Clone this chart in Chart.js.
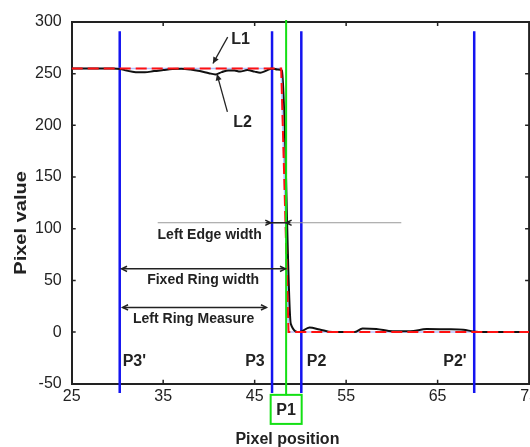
<!DOCTYPE html>
<html>
<head>
<meta charset="utf-8">
<script src="https://cdn.jsdelivr.net/npm/chart.js@4"></script>
<style>
  html, body { margin: 0; padding: 0; background: #fff; overflow: hidden; }
  #wrap { width: 530px; height: 447px; overflow: hidden; }
</style>
</head>
<body>
<div id="wrap"><canvas id="edgeChart" width="541" height="447"></canvas></div>
<script>
const xTicks = [25, 35, 45, 55, 65, 75]
const yTicks = [-50, 0, 50, 100, 150, 200, 250, 300]

// L1: ideal edge profile
const l1X = [25, 47.9, 48.7, 75]
const l1Y = [255, 255, 0, 0]

// L2: measured edge profile
const l2X = [25, 27, 29.5, 30.3, 31, 32, 33, 34, 35, 36, 37, 38, 39, 40, 40.7, 41.4, 42.1, 42.8, 43.4, 44.2, 45, 45.6, 46.3, 46.9, 47.5, 48,
  48.95, 49.9, 51, 52.1, 53.5, 55.9, 56.8, 58.3, 60.1, 62, 63.8, 66, 67.8, 68.9, 70, 75]
const l2Y = [255, 255, 255, 254.5, 253, 251.5, 251.3, 252.5, 253.5, 254.5, 254.8, 254, 252.5, 250.5, 249.3, 251.5, 253.2, 253, 252, 253.5, 252, 251, 253, 255, 254, 253,
  8, 0, 4.5, 2.5, 0, 0, 3.5, 3, 0.8, 0.8, 3, 2.7, 2.3, 0.7, 0, 0]

const markerNames = ["P3'", 'P3', 'P2', "P2'"]
const markerX = [30.25, 46.9, 50.1, 69.0]
const markerSpan = [291, -59]
const p1X = 48.44
const p1Span = [302, -61]

const FONT = '"Liberation Sans", Arial, sans-serif'
const INK = '#222'

function zip(xs, ys) {
  return xs.map((x, i) => ({ x, y: ys[i] }))
}

function arrowHead(ctx, x, y, angle, size, filled) {
  ctx.beginPath()
  ctx.moveTo(x - size * Math.cos(angle - 0.45), y - size * Math.sin(angle - 0.45))
  ctx.lineTo(x, y)
  ctx.lineTo(x - size * Math.cos(angle + 0.45), y - size * Math.sin(angle + 0.45))
  if (filled) {
    ctx.closePath()
    ctx.fill()
  } else {
    ctx.stroke()
  }
}

const framePlugin = {
  id: 'frame',
  beforeDatasetsDraw(chart) {
    const { ctx, chartArea: a } = chart
    ctx.save()
    ctx.strokeStyle = INK
    ctx.lineWidth = 2
    ctx.beginPath()
    ctx.moveTo(a.left, a.top)
    ctx.lineTo(a.right, a.top)
    ctx.lineTo(a.right, a.bottom)
    ctx.stroke()

    // inward ticks on all four sides
    ctx.lineWidth = 1.5
    const x = chart.scales.x
    const y = chart.scales.y
    xTicks.slice(1, -1).forEach(v => {
      const p = x.getPixelForValue(v)
      ctx.beginPath()
      ctx.moveTo(p, a.bottom); ctx.lineTo(p, a.bottom - 4)
      ctx.moveTo(p, a.top); ctx.lineTo(p, a.top + 4)
      ctx.stroke()
    })
    yTicks.slice(1, -1).forEach(v => {
      const p = y.getPixelForValue(v)
      ctx.beginPath()
      ctx.moveTo(a.left, p); ctx.lineTo(a.left + 4, p)
      ctx.moveTo(a.right, p); ctx.lineTo(a.right - 4, p)
      ctx.stroke()
    })

    // axis titles
    ctx.fillStyle = INK
    ctx.font = 'bold 16px ' + FONT
    ctx.textAlign = 'center'
    ctx.textBaseline = 'middle'
    ctx.fillText('Pixel position', (a.left + a.right) / 2 - 13, a.bottom + 56)

    ctx.save()
    ctx.translate(a.left - 50, (a.top + a.bottom) / 2 + 20)
    ctx.rotate(-Math.PI / 2)
    ctx.scale(1.18, 1)
    ctx.font = 'bold 17px ' + FONT
    ctx.fillText('Pixel value', 0, 0)
    ctx.restore()
    ctx.restore()
  }
}

const annotationPlugin = {
  id: 'edgeAnnotations',
  afterDatasetsDraw(chart) {
    const { ctx } = chart
    const px = v => chart.scales.x.getPixelForValue(v)
    const py = v => chart.scales.y.getPixelForValue(v)

    ctx.save()
    ctx.fillStyle = INK
    ctx.strokeStyle = INK
    ctx.textAlign = 'center'
    ctx.textBaseline = 'middle'

    // L1 / L2 callouts
    ctx.font = 'bold 16px ' + FONT
    ctx.fillText('L1', px(43.47), py(282.5))
    ctx.fillText('L2', px(43.69), py(203))
    ctx.lineWidth = 1.3
    const callouts = [[42.05, 285.4, 40.44, 259.9], [42.02, 213, 40.88, 249.6]]
    callouts.forEach(([x1, y1, x2, y2]) => {
      const a1 = px(x1), b1 = py(y1), a2 = px(x2), b2 = py(y2)
      ctx.beginPath()
      ctx.moveTo(a1, b1)
      ctx.lineTo(a2, b2)
      ctx.stroke()
      arrowHead(ctx, a2, b2, Math.atan2(b2 - b1, a2 - a1), 7, true)
    })

    // Left edge width guide
    ctx.strokeStyle = '#9a9a9a'
    ctx.lineWidth = 1
    ctx.beginPath()
    ctx.moveTo(px(34.4), py(105.8))
    ctx.lineTo(px(61.03), py(105.8))
    ctx.stroke()
    ctx.strokeStyle = INK
    ctx.lineWidth = 1.5
    ctx.beginPath()
    ctx.moveTo(px(46.2), py(105.8))
    ctx.lineTo(px(48.9), py(105.8))
    ctx.stroke()
    arrowHead(ctx, px(46.75), py(105.8), 0, 6, false)
    arrowHead(ctx, px(48.45), py(105.8), Math.PI, 6, false)

    // ring width dimension arrows
    const dims = [[30.46, 48.36, 61.2], [30.57, 46.28, 23.9]]
    dims.forEach(([x1, x2, yv]) => {
      ctx.beginPath()
      ctx.moveTo(px(x1), py(yv))
      ctx.lineTo(px(x2), py(yv))
      ctx.stroke()
      arrowHead(ctx, px(x1), py(yv), Math.PI, 6, false)
      arrowHead(ctx, px(x2), py(yv), 0, 6, false)
    })

    ctx.font = 'bold 14px ' + FONT
    ctx.fillText('Left Edge width', px(40.08), py(93.4))
    ctx.fillText('Fixed Ring width', px(39.37), py(50.3))
    ctx.fillText('Left Ring Measure', px(38.33), py(13))

    // marker names
    ctx.font = 'bold 16px ' + FONT
    const nameOffset = [0.32, -0.8, 0.6, -0.83]
    markerNames.forEach((name, i) => {
      ctx.textAlign = nameOffset[i] > 0 ? 'left' : 'right'
      ctx.fillText(name, px(markerX[i] + nameOffset[i]), py(-28.7))
    })

    // P1 box under the green line
    const bx = px(46.75), by = py(-60.7)
    const bw = px(50.14) - bx, bh = py(-88.8) - by
    ctx.strokeStyle = '#14e014'
    ctx.lineWidth = 2
    ctx.strokeRect(bx, by, bw, bh)
    ctx.textAlign = 'center'
    ctx.fillText('P1', px(p1X), by + bh / 2 + 1)
    ctx.restore()
  }
}

const markerSets = markerX.map(v => ({
  label: 'marker',
  data: zip([v, v], markerSpan),
  borderColor: '#1414f0',
  borderWidth: 2.5,
  pointRadius: 0,
  clip: false,
  order: 4
}))

const axisGrid = { display: false, drawTicks: false, tickLength: 0 }

new Chart(document.getElementById('edgeChart'), {
  type: 'line',
  data: {
    datasets: [
      ...markerSets,
      {
        label: 'L1 base',
        data: zip(l1X, l1Y),
        borderColor: 'rgba(150, 165, 255, 0.7)',
        borderWidth: 1.5,
        pointRadius: 0,
        order: 3
      },
      {
        label: 'L2',
        data: zip(l2X, l2Y),
        borderColor: '#111',
        borderWidth: 2,
        pointRadius: 0,
        cubicInterpolationMode: 'monotone',
        order: 2
      },
      {
        label: 'L1',
        data: zip(l1X, l1Y),
        borderColor: '#ff1010',
        borderWidth: 2,
        borderDash: [11, 5],
        pointRadius: 0,
        order: 1
      },
      {
        label: 'P1',
        data: zip([p1X, p1X], p1Span),
        borderColor: '#14e014',
        borderWidth: 2,
        pointRadius: 0,
        clip: false,
        order: 0
      }
    ]
  },
  options: {
    responsive: false,
    animation: false,
    layout: { padding: { left: 25, top: 22, right: 0, bottom: 38 } },
    plugins: {
      legend: { display: false },
      tooltip: { enabled: false }
    },
    scales: {
      x: {
        type: 'linear',
        min: 25,
        max: 75,
        afterBuildTicks: scale => { scale.ticks = xTicks.map(value => ({ value })) },
        ticks: { color: INK, font: { family: FONT, size: 16 }, padding: 3 },
        grid: axisGrid,
        border: { display: true, color: INK, width: 2 }
      },
      y: {
        type: 'linear',
        min: -50,
        max: 300,
        afterBuildTicks: scale => { scale.ticks = yTicks.map(value => ({ value })) },
        ticks: { color: INK, font: { family: FONT, size: 16 }, padding: 10 },
        grid: axisGrid,
        border: { display: true, color: INK, width: 2 }
      }
    }
  },
  plugins: [framePlugin, annotationPlugin]
})
</script>
</body>
</html>
